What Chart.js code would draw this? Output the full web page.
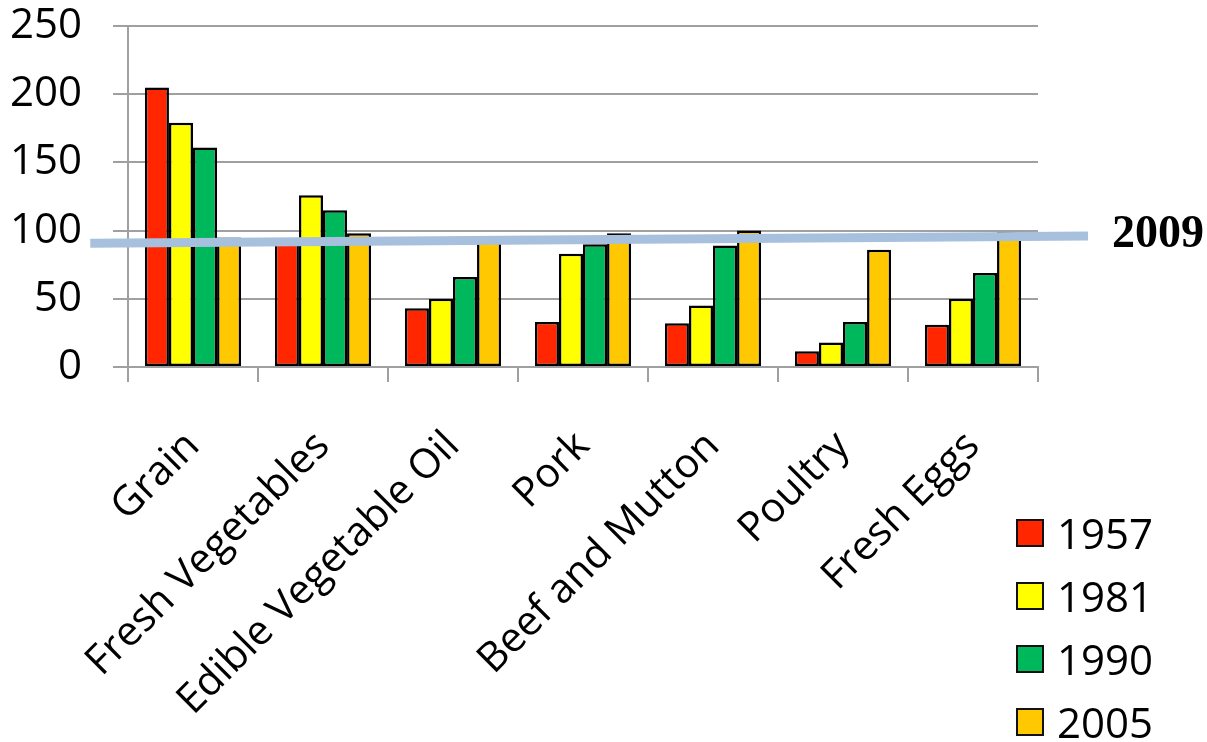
<!DOCTYPE html>
<html>
<head>
<meta charset="utf-8">
<script src="https://cdn.jsdelivr.net/npm/chart.js@4"></script>
<style>
  html, body { margin: 0; padding: 0; background: #fff; }
  #wrap { position: relative; width: 1207px; height: 742px; }
  #legend { position: absolute; left: 1016px; top: 500px; font-family: "Open Sans", sans-serif; font-size: 42px; color: #000; }
  .li { position: absolute; left: 0; height: 50px; white-space: nowrap; }
  .box { position: absolute; left: 0; width: 24px; height: 24px; border: 2px solid #111; }
  .lt { position: absolute; left: 41px; line-height: 50px; top: 0; }
</style>
</head>
<body>
<div id="wrap">
  <canvas id="c" width="1207" height="742"></canvas>
  <div id="legend"></div>
</div>
<script>
const categories = ["Grain", "Fresh Vegetables", "Edible Vegetable Oil", "Pork", "Beef and Mutton", "Poultry", "Fresh Eggs"];
const seriesNames = ["1957", "1981", "1990", "2005"];
const v1957 = [205, 92, 43, 33, 32, 11.5, 31];
const v1981 = [179, 126, 50, 83, 45, 18, 50];
const v1990 = [161, 115, 66, 90, 89, 33, 69];
const v2005 = [95, 98, 96, 98, 100, 86, 99];
const seriesColors = ["#FF2600", "#FFFF00", "#00B85C", "#FFC800"];
const yTicks = [0, 50, 100, 150, 200, 250];
const refLabel = "2009";
const refLineX = [-0.29, 7.385];
const refLineY = [90.7, 96.0];

const seriesValues = [v1957, v1981, v1990, v2005];
const FONT = "'Open Sans', sans-serif";
const GRID = "#A0A0A0";

const datasets = seriesNames.map((n, i) => ({
  type: 'bar',
  indexAxis: 'x',
  label: n,
  data: seriesValues[i],
  backgroundColor: seriesColors[i],
  borderColor: "#000",
  borderWidth: 2.5,
  borderSkipped: false,
  categoryPercentage: 0.74,
  barPercentage: 1.0,
  xAxisID: 'x',
  yAxisID: 'y',
  order: 1
}));
datasets.push({
  type: 'line',
  indexAxis: 'x',
  label: refLabel,
  data: refLineX.map((x, i) => ({ x: x, y: refLineY[i] })),
  borderColor: "#A7C0DE",
  borderWidth: 9,
  pointRadius: 0,
  fill: false,
  clip: false,
  xAxisID: 'xl',
  yAxisID: 'y',
  order: -1
});

const refLabelPlugin = {
  id: 'refLabel',
  afterDatasetsDraw(chart) {
    const meta = chart.getDatasetMeta(chart.data.datasets.length - 1);
    const pt = meta.data[meta.data.length - 1];
    const ctx = chart.ctx;
    ctx.save();
    ctx.font = "bold 46px 'Liberation Serif', 'Times New Roman', serif";
    ctx.fillStyle = "#000";
    ctx.textAlign = 'left';
    ctx.textBaseline = 'middle';
    ctx.fillText(refLabel, pt.x + 24, pt.y - 1);
    ctx.restore();
  }
};

new Chart(document.getElementById('c'), {
  data: { labels: categories, datasets: datasets },
  options: {
    indexAxis: 'y',
    responsive: false,
    animation: false,
    layout: { padding: { left: 0, right: 169, top: 26, bottom: 0 } },
    plugins: { legend: { display: false }, tooltip: { enabled: false } },
    scales: {
      x: {
        type: 'category',
        offset: true,
        grid: { display: true, drawOnChartArea: false, drawTicks: true, tickLength: 15, color: GRID, lineWidth: 2, offset: true },
        border: { display: true, color: GRID, width: 2 },
        ticks: {
          autoSkip: false, maxRotation: 45, minRotation: 45,
          font: { family: FONT, size: 41 }, color: "#000", padding: 40
        },
        afterFit(scale) { scale.height = 742 - 367; }
      },
      xl: {
        type: 'linear', min: 0, max: 7, offset: false, display: false
      },
      y: {
        type: 'linear',
        min: 0, max: 250,
        afterBuildTicks(scale) { scale.ticks = yTicks.map(v => ({ value: v })); },
        grid: { color: GRID, lineWidth: 2, tickLength: 15, drawTicks: true },
        border: { display: true, color: GRID, width: 2 },
        ticks: { font: { family: FONT, size: 42 }, color: "#000", padding: 31 },
        afterFit(scale) { scale.width = 128; scale.paddingTop = 0; scale.paddingBottom = 0; }
      }
    }
  },
  plugins: [refLabelPlugin]
});

// legend (HTML)
const legend = document.getElementById('legend');
seriesNames.forEach((n, i) => {
  const li = document.createElement('div');
  li.className = 'li';
  li.style.top = (i * 63 + 8) + 'px';
  const box = document.createElement('div');
  box.className = 'box';
  box.style.top = '11px';
  box.style.background = seriesColors[i];
  const t = document.createElement('div');
  t.className = 'lt';
  t.textContent = n;
  li.appendChild(box); li.appendChild(t);
  legend.appendChild(li);
});
</script>
</body>
</html>
